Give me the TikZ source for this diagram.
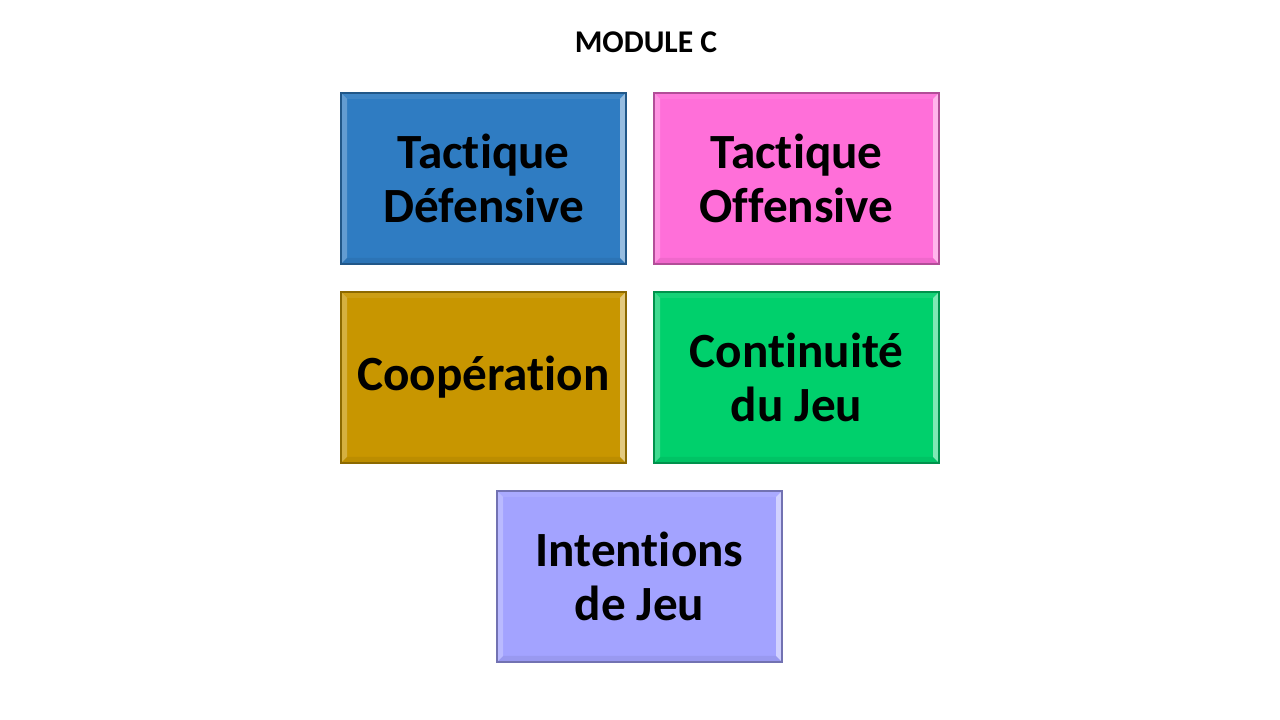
\documentclass[tikz,border=0pt]{standalone}
\usepackage{fontspec}
\setmainfont[Ligatures=NoCommon]{Carlito}
\usepackage{tikz}
\usetikzlibrary{positioning}
\definecolor{bleuD}{HTML}{2F7CC2}
\definecolor{roseO}{HTML}{FF6FD9}
\definecolor{orC}{HTML}{C89600}
\definecolor{vertJ}{HTML}{00D06C}
\definecolor{lavI}{HTML}{A3A3FF}
\tikzset{
  tile/.style={draw=#1!70!black, fill=#1, line width=0.5pt,
    minimum width=2.85cm, minimum height=1.71cm, align=center,
    font=\fontsize{14}{15.4}\selectfont\bfseries,
    path picture={
      \fill[white,opacity=.5] (path picture bounding box.north east) -- ++(-0.06,-0.06)
        -- ([shift={(-0.06,0.06)}]path picture bounding box.south east) -- (path picture bounding box.south east) -- cycle;
      \fill[white,opacity=.25] (path picture bounding box.north west) -- ++(0.06,-0.06)
        -- ([shift={(0.06,0.06)}]path picture bounding box.south west) -- (path picture bounding box.south west) -- cycle;
      \fill[black,opacity=.06] (path picture bounding box.south west) -- ++(0.06,0.06)
        -- ([shift={(-0.06,0.06)}]path picture bounding box.south east) -- (path picture bounding box.south east) -- cycle;
      \fill[white,opacity=.08] (path picture bounding box.north west) -- ++(0.06,-0.06)
        -- ([shift={(-0.06,-0.06)}]path picture bounding box.north east) -- (path picture bounding box.north east) -- cycle;
    }},
  titre/.style={font=\fontsize{9}{10.8}\selectfont\bfseries}
}
\begin{document}
\begin{tikzpicture}
\useasboundingbox (0,0) rectangle (12.8,7.2);
\node[titre] (title) at (6.46,6.78) {MODULE C};
\node[tile=bleuD] (defense) at (4.835,5.415) {Tactique\\Défensive};
\node[tile=roseO] (offense) at (7.965,5.415) {Tactique\\Offensive};
\node[tile=orC] (coop) at (4.835,3.425) {Coopération};
\node[tile=vertJ] (continu) at (7.965,3.425) {Continuité\\du Jeu};
\node[tile=lavI] (intent) at (6.395,1.435) {Intentions\\de Jeu};
\end{tikzpicture}
\end{document}
